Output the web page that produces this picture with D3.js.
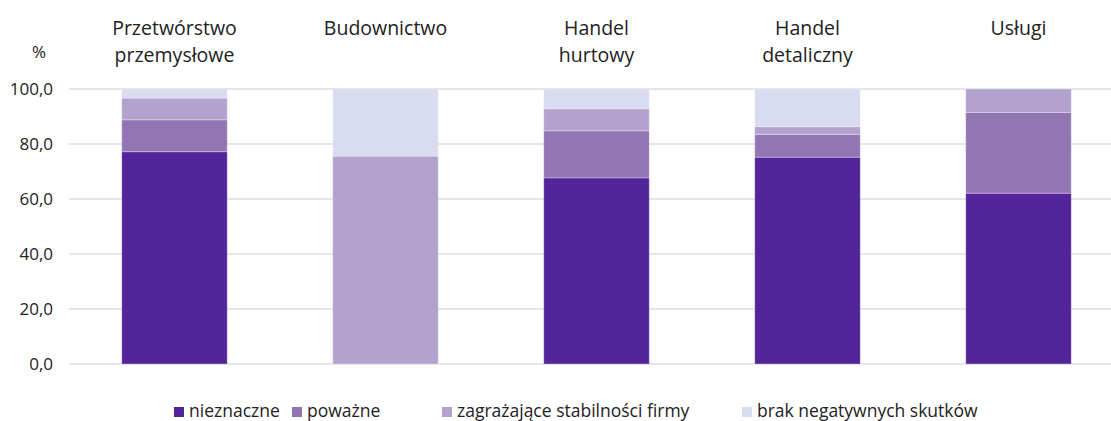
<!DOCTYPE html>
<html>
<head>
<meta charset="utf-8">
<script src="https://cdn.jsdelivr.net/npm/d3@7"></script>
<style>
  body { margin: 0; background: #fff; }
  text { font-family: "Open Sans", "Noto Sans", sans-serif; fill: #222; }
</style>
</head>
<body>
<div id="chart"></div>
<script>
// categories (two-line labels split by "\n")
const categories = ["Przetwórstwo\nprzemysłowe", "Budownictwo", "Handel\nhurtowy", "Handel\ndetaliczny", "Usługi"];
const seriesNames = ["nieznaczne", "poważne", "zagrażające stabilności firmy", "brak negatywnych skutków"];
const nieznaczne = [77.2, 0, 67.7, 75.2, 62.1];
const powazne    = [11.6, 0, 17.1, 8.3, 29.4];
const zagrazajace = [7.9, 75.6, 8.0, 2.8, 8.5];
const brak       = [3.3, 24.4, 7.2, 13.7, 0];
const yTicks = [0, 20, 40, 60, 80, 100];
const colors = ["#53249a", "#9275b3", "#b3a1ce", "#d9dbf0"];

const W = 1111, H = 421;
const svg = d3.select("#chart").append("svg")
    .attr("width", W)
    .attr("height", H);

const x = d3.scaleBand()
    .domain(categories)
    .range([69, 1124])
    .paddingInner(0.5)
    .paddingOuter(0.25);

const y = d3.scaleLinear()
    .domain([0, 100])
    .range([364, 89]);

// gridlines
svg.append("g")
  .selectAll("line")
  .data(yTicks)
  .join("line")
    .attr("x1", 69)
    .attr("x2", W)
    .attr("y1", d => y(d))
    .attr("y2", d => y(d))
    .attr("stroke", "#dedede")
    .attr("stroke-width", 1.5);

// y axis labels
const yAxis = d3.axisLeft(y)
    .tickValues(yTicks)
    .tickSize(0)
    .tickPadding(0)
    .tickFormat(d => d3.format(".1f")(d).replace(".", ","));
svg.append("g")
    .attr("transform", "translate(53,0)")
    .call(yAxis)
    .call(g => g.select(".domain").remove())
    .call(g => g.selectAll("text")
        .style("font-family", "'Open Sans', 'Noto Sans', sans-serif")
        .style("font-size", "17px")
        .attr("fill", "#222"));

svg.append("text")
    .attr("x", 39)
    .attr("y", 58)
    .attr("text-anchor", "middle")
    .style("font-size", "17px")
    .text("%");

// stacked bars
const rows = categories.map((c, i) => ({
  cat: c,
  s0: nieznaczne[i], s1: powazne[i], s2: zagrazajace[i], s3: brak[i]
}));
const stack = d3.stack().keys(["s0", "s1", "s2", "s3"]);
const layers = stack(rows);

svg.append("g")
  .selectAll("g")
  .data(layers)
  .join("g")
    .attr("fill", (d, i) => colors[i])
  .selectAll("rect")
  .data(d => d.filter(p => p[1] - p[0] > 0))
  .join("rect")
    .attr("x", d => x(d.data.cat))
    .attr("width", x.bandwidth())
    .attr("y", d => y(d[1]))
    .attr("height", d => y(d[0]) - y(d[1]))
    .attr("stroke", "#ffffff")
    .attr("stroke-opacity", 0.3)
    .attr("stroke-width", 1);

// category labels at top
const catLabels = svg.append("g")
  .selectAll("text")
  .data(categories)
  .join("text")
    .attr("x", d => x(d) + x.bandwidth() / 2)
    .attr("y", 35)
    .attr("text-anchor", "middle")
    .style("font-size", "19.5px");
catLabels.selectAll("tspan")
  .data(d => d.split("\n"))
  .join("tspan")
    .attr("x", function() { return this.parentNode.getAttribute("x"); })
    .attr("dy", (d, i) => i === 0 ? 0 : 26.5)
    .text(d => d);

// legend
const legendX = [174, 292, 442, 742];
const legend = svg.append("g")
  .selectAll("g")
  .data(seriesNames)
  .join("g")
    .attr("transform", (d, i) => `translate(${legendX[i]},407)`);
legend.append("rect")
    .attr("width", 10)
    .attr("height", 10)
    .attr("fill", (d, i) => colors[i]);
legend.append("text")
    .attr("x", 15)
    .attr("y", 10)
    .style("font-size", "17.5px")
    .text(d => d);
</script>
</body>
</html>
